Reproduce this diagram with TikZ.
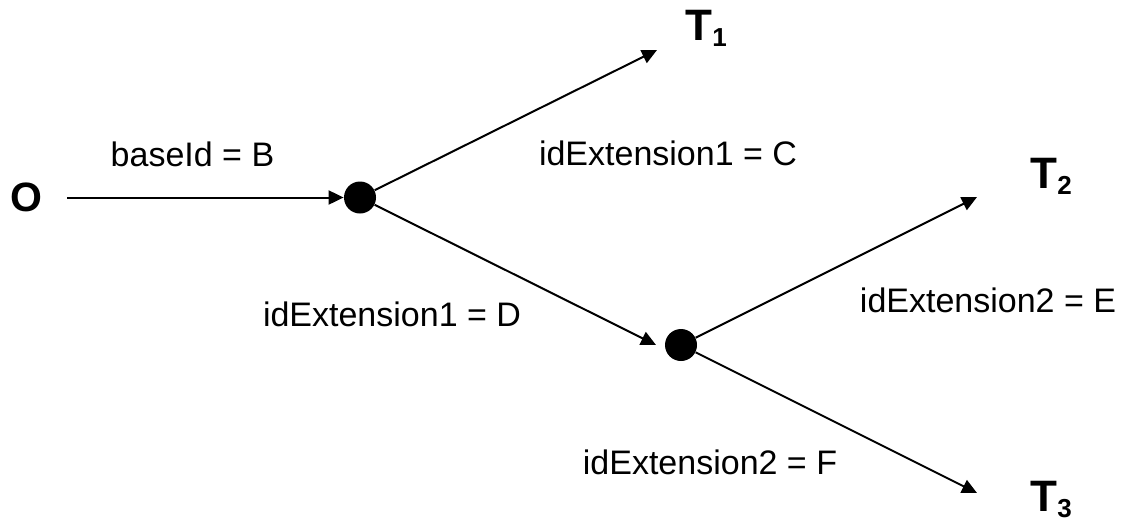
\documentclass[tikz,border=0pt]{standalone}
\usepackage{fontspec}
\setmainfont{Liberation Sans}
\usetikzlibrary{arrows.meta}
\newcommand{\tsub}[1]{\raisebox{-3pt}{\fontsize{13}{15}\selectfont #1}}

\begin{document}
\begin{tikzpicture}[x=0.5pt,y=-0.5pt,
    arr/.style={line width=1pt,-{Triangle[length=7.5pt,width=7pt]}},
    dot/.style={circle,fill=black,inner sep=0pt,minimum size=16pt},
    lbl/.style={font=\fontsize{17}{20}\selectfont,inner sep=0pt},
    term/.style={font=\fontsize{22}{26}\selectfont\bfseries,inner sep=0pt,anchor=base west}]
                    \useasboundingbox (0,0) rectangle (1122,520);
                    \node[font=\fontsize{20.5}{24}\selectfont\bfseries,inner sep=0pt] (O) at (26,197.5) {O};
                    \node[dot] (d1) at (360,197.5) {};
                    \node[dot] (d2) at (681,345) {};
                    \coordinate (e1) at (656,345);
                    \coordinate (t1) at (657,50);
                    \coordinate (t2) at (977,197);
                    \coordinate (t3) at (977,493);
                    \node[term] (T1) at (685,40) {T\tsub{1}};
                    \node[term] (T2) at (1030,188) {T\tsub{2}};
                    \node[term] (T3) at (1030,511) {T\tsub{3}};
                    \draw[arr,shorten <=12.5pt] (O) -- (d1);
                    \draw[arr] (d1) -- (t1);
                    \draw[arr] (d1) -- (e1);
                    \draw[arr] (d2) -- (t2);
                    \draw[arr] (d2) -- (t3);
                    \node[lbl] (lb) at (192.5,154) {baseId = B};
                    \node[lbl] (lc) at (668,153) {idExtension1 = C};
                    \node[lbl] (ld) at (392,314.5) {idExtension1 = D};
                    \node[lbl] (le) at (988,300.5) {idExtension2 = E};
                    \node[lbl] (lf) at (710,462.5) {idExtension2 = F};
                \end{tikzpicture}
\end{document}
